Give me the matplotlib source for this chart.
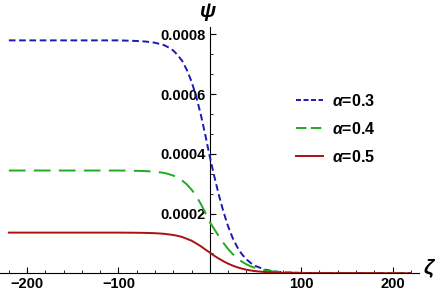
import matplotlib
matplotlib.use("Agg")
import matplotlib.pyplot as plt
from matplotlib.ticker import MultipleLocator

plt.rcParams['font.family'] = ['Liberation Sans', 'DejaVu Sans']
plt.rcParams['lines.scale_dashes'] = False
plt.rcParams['mathtext.fontset'] = 'custom'
plt.rcParams['mathtext.it'] = 'Liberation Sans:italic:bold'
plt.rcParams['mathtext.rm'] = 'Liberation Sans:bold'
plt.rcParams['mathtext.bf'] = 'Liberation Sans:bold'

zeta = [-220, -100, -80, -70, -60, -50, -45, -40, -35, -30, -25, -20, -15, -10, -5, 0,
        5, 10, 15, 20, 25, 30, 35, 40, 45, 50, 60, 70, 80, 100, 220]
psi_a03 = [0.000780, 0.000780, 0.000778, 0.000776, 0.000772, 0.000764, 0.000756, 0.000746,
           0.000730, 0.000710, 0.000680, 0.000642, 0.000593, 0.000533, 0.000464, 0.000390,
           0.000323, 0.000261, 0.000205, 0.000157, 0.000118, 0.0000875, 0.0000640, 0.0000468,
           0.0000336, 0.0000242, 0.0000122, 0.0000062, 0.0000031, 0.0000008, 0.0]
psi_a04 = [0.000344, 0.000344, 0.000343, 0.000342, 0.000340, 0.000336, 0.000332, 0.000327,
           0.000320, 0.000310, 0.000297, 0.000280, 0.000259, 0.000233, 0.000203, 0.000171,
           0.000147, 0.000123, 0.000101, 0.0000812, 0.0000643, 0.0000502, 0.0000388, 0.0000299,
           0.0000227, 0.0000172, 0.0000098, 0.0000055, 0.0000031, 0.0000010, 0.0]
psi_a05 = [0.000136, 0.000136, 0.0001355, 0.000135, 0.000134, 0.000132, 0.000130, 0.000128,
           0.000125, 0.000121, 0.000115, 0.000109, 0.000100, 0.0000906, 0.0000796, 0.000069,
           0.0000581, 0.0000486, 0.0000398, 0.0000321, 0.0000254, 0.0000199, 0.0000154, 0.0000118,
           0.0000090, 0.0000068, 0.0000039, 0.0000022, 0.0000012, 0.0000004, 0.0]
labels = [r"$\alpha$=0.3", r"$\alpha$=0.4", r"$\alpha$=0.5"]
xticks = [-200, -100, 100, 200]
yticks = [0.0002, 0.0004, 0.0006, 0.0008]

fig = plt.figure(figsize=(4.36, 2.93), dpi=100)
W, H = 436, 293
y0 = 273.2
ax = fig.add_axes([0 / W, (H - y0) / H, 419 / W, (y0 - 27) / H])
ax.set_xlim(-229.7, 229)
ax.set_ylim(0, (y0 - 27) / 298.5 * 0.001)

ax.plot(zeta, psi_a03, color='#1a1ab4', lw=1.4, dashes=(4.8, 2.6), label=labels[0])
ax.plot(zeta, psi_a04, color='#20aa20', lw=1.4, dashes=(12, 6), label=labels[1])
ax.plot(zeta, psi_a05, color='#aa1010', lw=1.4, label=labels[2])

for s in ['top', 'right']:
    ax.spines[s].set_visible(False)
ax.spines['left'].set_position(('data', 0))
ax.spines['bottom'].set_position(('data', 0))
ax.spines['left'].set_zorder(0)
ax.spines['bottom'].set_zorder(0)

ax.set_xticks(xticks)
ax.set_xticklabels([str(v).replace('-', '−') for v in xticks])
ax.set_yticks(yticks)
ax.set_yticklabels([f"{v:.4f}" for v in yticks])
ax.xaxis.set_minor_locator(MultipleLocator(20))
ax.yaxis.set_minor_locator(MultipleLocator(0.0002 / 3))
ax.tick_params(which='major', direction='in', length=4, width=0.8)
ax.tick_params(which='minor', direction='in', length=2, width=0.6)
ax.tick_params(axis='both', labelsize=10.5, pad=3)
for t in ax.get_xticklabels() + ax.get_yticklabels():
    t.set_fontweight('bold')

fig.text(208 / W, 1 - 12 / H, r'$\psi$', fontsize=15, ha='center', va='center')
fig.text(430 / W, 1 - 269 / H, r'$\zeta$', fontsize=15, ha='center', va='center')

leg = ax.legend(loc='center left', bbox_to_anchor=(296 / W, 1 - 129 / H),
                bbox_transform=fig.transFigure, frameon=False,
                prop={'weight': 'bold', 'size': 11.5}, handlelength=1.7,
                labelspacing=0.75, handletextpad=0.55, borderpad=0, borderaxespad=0)
leg_lines = leg.get_lines()
leg_lines[0].set_dashes((3.6, 1.8))
leg_lines[1].set_dashes((7.5, 3.2))

fig.savefig('out.png', dpi=100)
